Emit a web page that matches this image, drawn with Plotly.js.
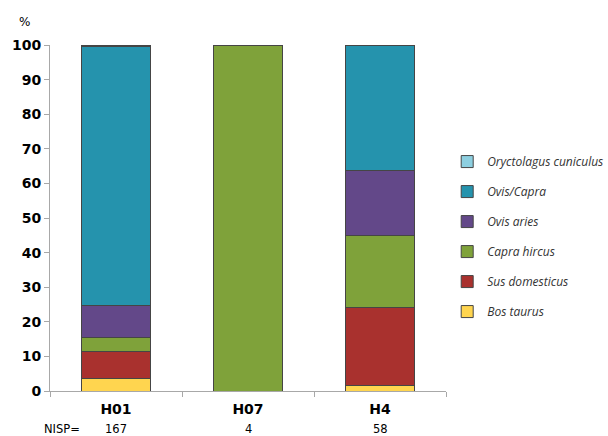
<!DOCTYPE html>
<html><head><meta charset="utf-8">
<script src="https://cdn.plot.ly/plotly-3.0.1.min.js"></script>
<style>html,body{margin:0;padding:0;background:#fff;}#chart{width:608px;height:436px;}</style>
</head><body><div id="chart"></div>
<script>
var categories = ['H01', 'H07', 'H4'];
var nisp = ['167', '4', '58'];
var species = ['Bos taurus', 'Sus domesticus', 'Capra hircus', 'Ovis aries', 'Ovis/Capra', 'Oryctolagus cuniculus'];
var bosTaurus = [3.6, 0, 1.7];
var susDomesticus = [7.8, 0, 22.4];
var capraHircus = [4.2, 100, 20.7];
var ovisAries = [9.0, 0, 19.0];
var ovisCapra = [74.9, 0, 36.2];
var oryctolagus = [0.5, 0, 0];
var colors = ['#FFD54F', '#A9312E', '#7FA23A', '#634889', '#2593AD', '#8DCFE0'];

var seriesValues = [bosTaurus, susDomesticus, capraHircus, ovisAries, ovisCapra, oryctolagus];
var traces = seriesValues.map(function (vals, i) {
  return {
    type: 'bar', name: species[i], x: categories, y: vals,
    legendgroup: 'g' + i, legendrank: 100 - i,
    marker: { color: colors[i], line: { color: '#454545', width: 1 } },
    hoverinfo: 'name+y'
  };
});

var annotations = [
  { text: '%', xref: 'paper', yref: 'paper', x: -0.083, y: 1.093, showarrow: false,
    font: { family: 'DejaVu Sans', size: 12, color: '#000' } },
  { text: 'NISP=', xref: 'paper', yref: 'paper', x: -0.02, y: -0.11, yanchor: 'middle', showarrow: false,
    font: { family: 'DejaVu Sans', size: 11.5, color: '#000' } }
];
categories.forEach(function (c, i) {
  annotations.push({ text: nisp[i], xref: 'x', yref: 'paper', x: c, y: -0.11, yanchor: 'middle', showarrow: false,
    font: { family: 'DejaVu Sans', size: 11.5, color: '#000' } });
});

var layout = {
  width: 608, height: 436,
  margin: { l: 50, r: 162, t: 45, b: 45, autoexpand: false },
  paper_bgcolor: '#fff', plot_bgcolor: '#fff',
  barmode: 'stack', bargap: 0.47,
  showlegend: true,
  legend: {
    x: 1.003, xanchor: 'left', y: 0.705, yanchor: 'top',
    traceorder: 'grouped', tracegroupgap: 11,
    font: { family: 'Open Sans', size: 12, color: '#333', style: 'italic' }
  },
  xaxis: {
    type: 'category', showgrid: false, showline: true, linecolor: '#A8A8A8', linewidth: 1,
    ticks: 'outside', tickson: 'boundaries', ticklen: 5, tickcolor: '#A8A8A8',
    ticklabelstandoff: 5,
    tickfont: { family: 'DejaVu Sans', size: 14, color: '#000', weight: 'bold' },
    zeroline: false
  },
  yaxis: {
    range: [0, 100], tick0: 0, dtick: 10, showgrid: false, showline: true,
    linecolor: '#A8A8A8', linewidth: 1, ticks: 'outside', ticklen: 5, tickcolor: '#A8A8A8',
    tickfont: { family: 'DejaVu Sans', size: 14, color: '#000', weight: 'bold' },
    zeroline: false
  },
  annotations: annotations
};

Plotly.newPlot('chart', traces, layout, { displayModeBar: false, staticPlot: true });
</script></body></html>
